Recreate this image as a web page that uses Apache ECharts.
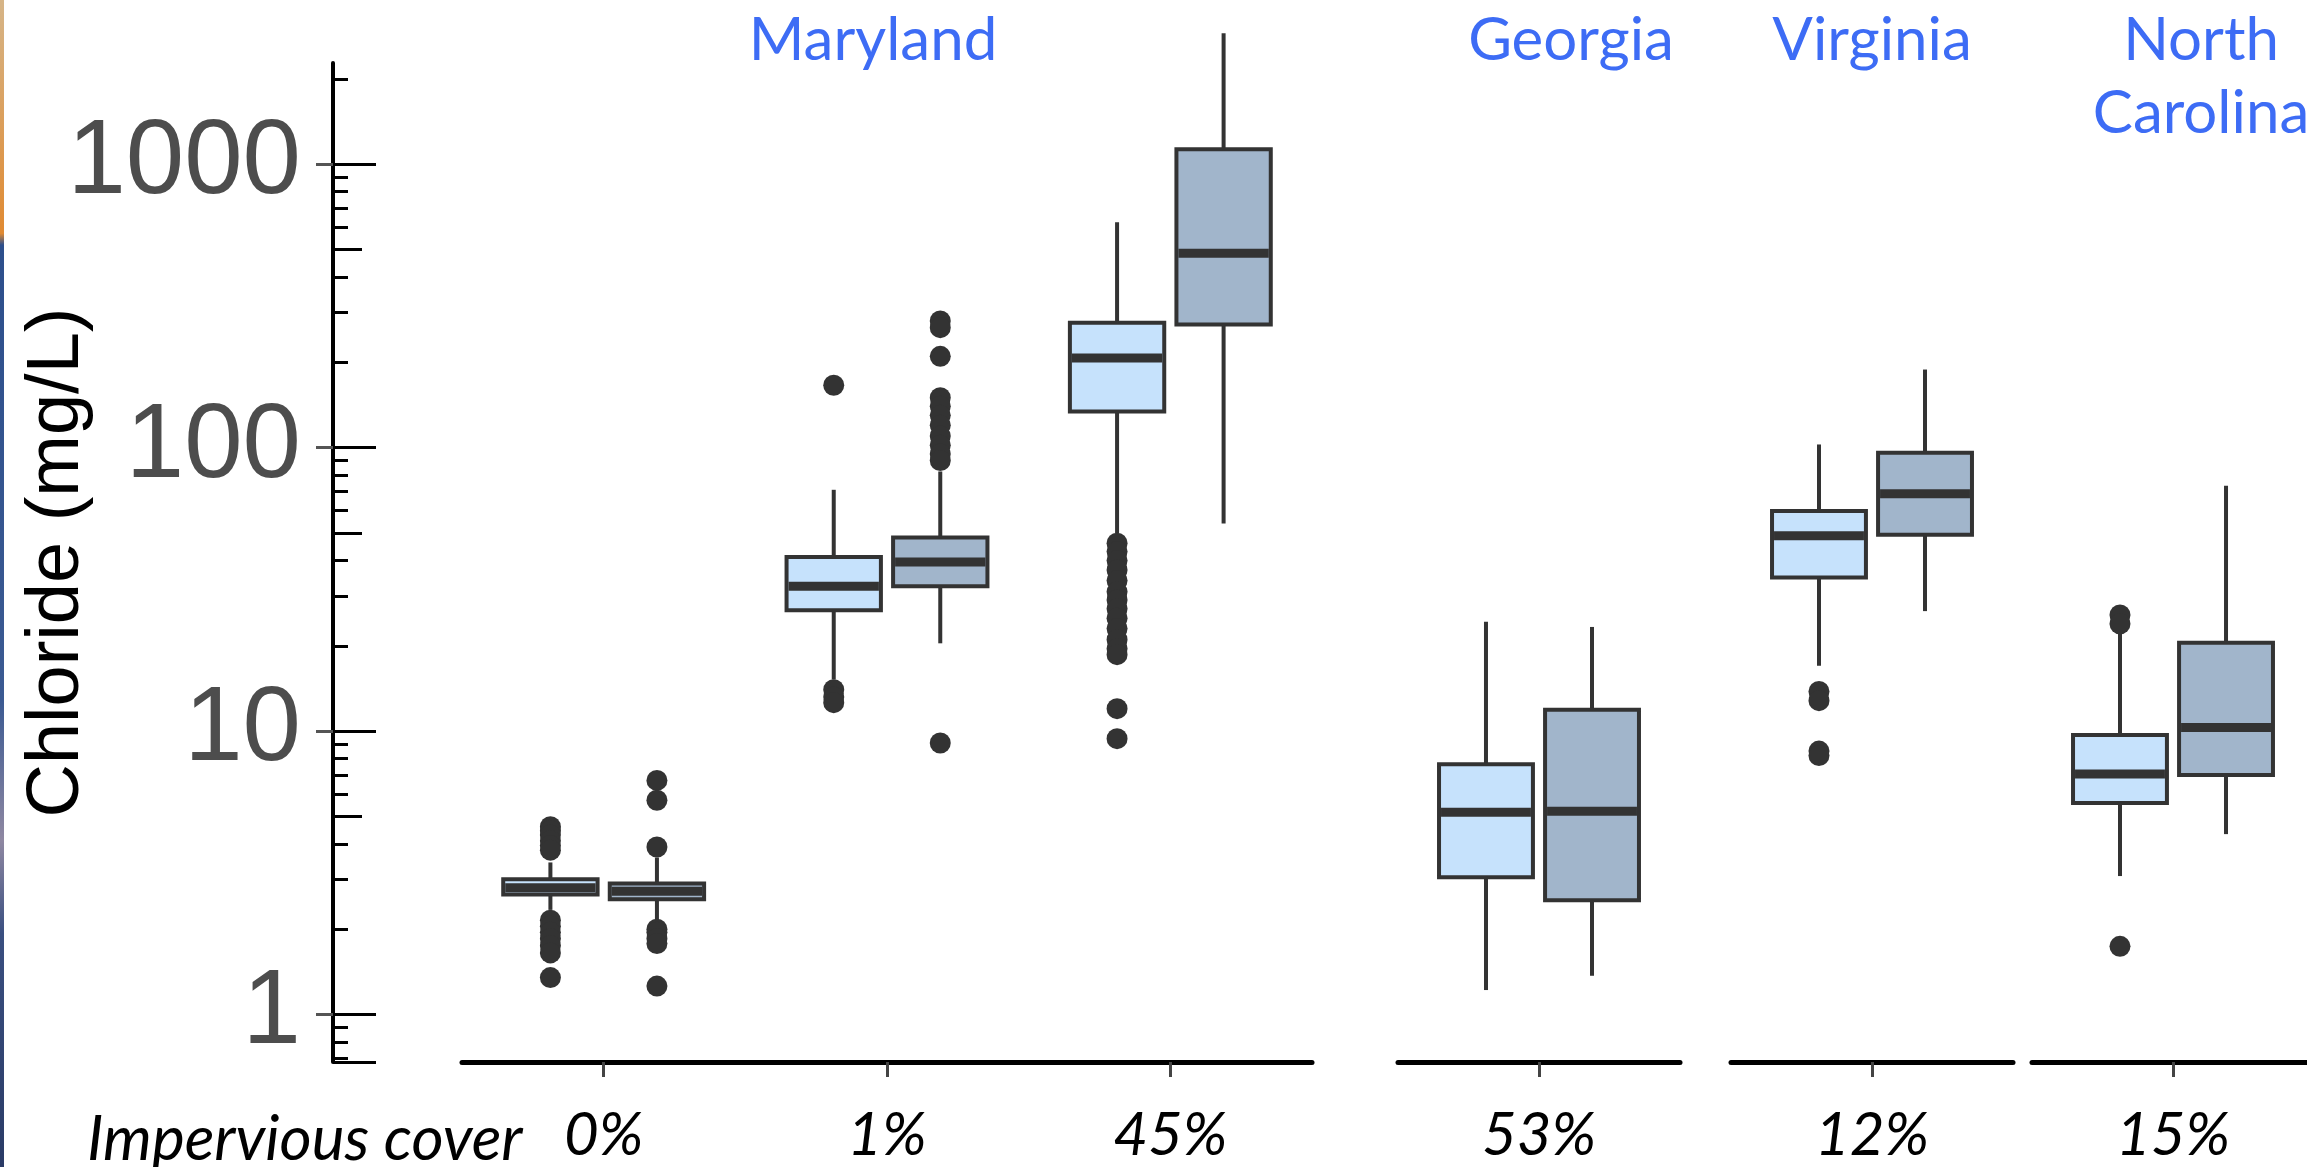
<!DOCTYPE html>
<html>
<head>
<meta charset="utf-8">
<script src="https://cdn.jsdelivr.net/npm/echarts@6/dist/echarts.min.js"></script>
<style>
html, body { margin: 0; padding: 0; background: #ffffff; }
#chart { width: 2307px; height: 1167px; }
</style>
</head>
<body>
<div id="chart"></div>
<script>
// ---------------- data ----------------
const categories = ['0%', '1%', '45%', '53%', '12%', '15%'];
const categoryGroup = [0, 0, 0, 1, 2, 3];
const states = ['Maryland', 'Georgia', 'Virginia', 'North\nCarolina'];
const xLeadLabel = 'Impervious cover';
const yName = 'Chloride (mg/L)';
const yTickValues = [1, 10, 100, 1000];
const yMidTickValues = [5, 50, 500];
const yMin = 0.68;
const yMax = 2275;

// [min, Q1, median, Q3, max] per category
const lightBoxes = [
  [2.34, 2.65, 2.8, 3.0, 3.44],
  [15.2, 26.7, 32.4, 41.1, 71],
  [49.9, 134, 207, 276, 624],
  [1.22, 3.05, 5.17, 7.64, 24.3],
  [17.0, 34.8, 48.9, 59.8, 102.6],
  [3.08, 5.57, 7.05, 9.68, 22.2]
];
const darkBoxes = [
  [2.16, 2.55, 2.72, 2.9, 3.58],
  [20.4, 32.4, 39.5, 48.2, 82.4],
  [54, 272, 485, 1130, 2897],
  [1.37, 2.53, 5.21, 11.9, 23.3],
  [26.5, 49.3, 68.7, 96, 188.6],
  [4.33, 7.0, 10.3, 20.5, 73.4]
];
const lightOutliers = [
  [4.6, 4.45, 4.3, 4.1, 3.95, 3.8, 2.15, 2.05, 1.95, 1.85, 1.75, 1.65, 1.35],
  [166, 14.0, 13.2, 12.6],
  [2550, 2450, 46, 43, 40, 37, 34, 31, 29, 27, 25, 23, 21, 19.5, 18.6, 12.0, 9.4],
  [],
  [13.8, 12.8, 8.5, 8.2],
  [25.7, 23.9, 1.74]
];
const darkOutliers = [
  [6.7, 5.7, 3.9, 2.0, 1.95, 1.85, 1.78, 1.26],
  [280, 265, 210, 150, 140, 130, 120, 110, 102, 95, 90, 9.08],
  [],
  [],
  [],
  []
];

// ---------------- layout / style ----------------
const gridRects = [
  { left: 462, width: 850 },
  { left: 1398, width: 282 },
  { left: 1731, width: 282 },
  { left: 2032, width: 282 }
];
const gridTop = 63, gridHeight = 999;
const yAxisX = 333;
const stateLabelX = [873, 1571, 1872, 2201];
const lightFill = '#c6e2fc';
const darkFill = '#a1b5cb';
const ink = '#333333';
const blue = '#3d6cf5';
const sideShift = 0.188;   // box centre offset as a fraction of the band
const boxFrac = 0.333;     // box width as a fraction of the band

const groupCats = states.map((s, g) => categories.filter((c, i) => categoryGroup[i] === g));

function renderBox(side, fill) {
  return function (params, api) {
    const x = api.value(0);
    const pMin = api.coord([x, api.value(1)]);
    const pQ1 = api.coord([x, api.value(2)]);
    const pMed = api.coord([x, api.value(3)]);
    const pQ3 = api.coord([x, api.value(4)]);
    const pMax = api.coord([x, api.value(5)]);
    const band = api.size([1, 0], [x, 1])[0];
    const cx = pMed[0] + side * band * sideShift;
    const w = band * boxFrac;
    return {
      type: 'group',
      children: [
        { type: 'line', shape: { x1: cx, y1: pMax[1], x2: cx, y2: pQ3[1] }, style: { stroke: ink, lineWidth: 4 } },
        { type: 'line', shape: { x1: cx, y1: pQ1[1], x2: cx, y2: pMin[1] }, style: { stroke: ink, lineWidth: 4 } },
        { type: 'rect', shape: { x: cx - w / 2, y: pQ3[1], width: w, height: pQ1[1] - pQ3[1] }, style: { fill: fill, stroke: ink, lineWidth: 4 } },
        { type: 'line', shape: { x1: cx - w / 2 + 2, y1: pMed[1], x2: cx + w / 2 - 2, y2: pMed[1] }, style: { stroke: ink, lineWidth: 9 } }
      ]
    };
  };
}

const grid = gridRects.map(r => ({
  left: r.left, width: r.width, top: gridTop, height: gridHeight,
  containLabel: false, outerBoundsMode: 'none'
}));

const xAxis = groupCats.map((cats, g) => ({
  type: 'category', gridIndex: g, data: cats,
  axisLine: { show: true, lineStyle: { color: '#000', width: 5 } },
  axisTick: { show: true, alignWithLabel: true, length: 15, lineStyle: { color: '#444', width: 3 } },
  axisLabel: { show: true, margin: 44, color: '#000', fontFamily: 'Lato', fontStyle: 'italic', fontSize: 60 },
  splitLine: { show: false }
}));

const logBase = {
  type: 'log', logBase: 10, min: yMin, max: yMax, gridIndex: 0, position: 'left',
  offset: gridRects[0].left - yAxisX, splitLine: { show: false }
};
const yAxis = [
  Object.assign({}, logBase, {
    name: yName, nameLocation: 'middle', nameRotate: 90, nameGap: 238, nameMoveOverlap: false,
    nameTextStyle: { fontSize: 74, color: '#000', fontFamily: 'Liberation Sans' },
    axisLine: { show: true, lineStyle: { color: '#000', width: 4 } },
    axisTick: { show: true, inside: true, length: 43, customValues: [yMin].concat(yTickValues), lineStyle: { color: '#000', width: 3 } },
    minorTick: { show: true, splitNumber: 9, length: 15, lineStyle: { color: '#000', width: 3 } },
    axisLabel: {
      show: true, customValues: yTickValues, margin: 32, color: '#4d4d4d', fontSize: 105,
      fontFamily: 'Liberation Sans', formatter: v => String(v)
    }
  }),
  Object.assign({}, logBase, {
    axisLine: { show: false },
    axisTick: { show: true, inside: true, length: 29, customValues: yMidTickValues, lineStyle: { color: '#000', width: 3 } },
    minorTick: { show: false },
    axisLabel: { show: false }
  }),
  Object.assign({}, logBase, {
    axisLine: { show: false },
    axisTick: { show: true, inside: false, length: 17, customValues: yTickValues, lineStyle: { color: '#555', width: 3 } },
    minorTick: { show: false },
    axisLabel: { show: false }
  })
];
for (let g = 1; g < gridRects.length; g++) {
  yAxis.push({ type: 'log', logBase: 10, min: yMin, max: yMax, gridIndex: g, show: false });
}

const series = [];
groupCats.forEach((cats, g) => {
  const yIdx = g === 0 ? 0 : 2 + g;
  const boxData = (boxes) => categories.map((c, i) => categoryGroup[i] === g ? [cats.indexOf(c)].concat(boxes[i]) : null).filter(Boolean);
  const outData = (outs) => {
    const arr = [];
    categories.forEach((c, i) => {
      if (categoryGroup[i] !== g) return;
      outs[i].forEach(v => arr.push([cats.indexOf(c), v]));
    });
    return arr;
  };
  const band = gridRects[g].width / cats.length;
  series.push({
    name: 'light', type: 'custom', xAxisIndex: g, yAxisIndex: yIdx,
    renderItem: renderBox(-1, lightFill), data: boxData(lightBoxes),
    encode: { x: 0, y: [1, 2, 3, 4, 5] }, z: 2, clip: false
  });
  series.push({
    name: 'dark', type: 'custom', xAxisIndex: g, yAxisIndex: yIdx,
    renderItem: renderBox(1, darkFill), data: boxData(darkBoxes),
    encode: { x: 0, y: [1, 2, 3, 4, 5] }, z: 2, clip: false
  });
  series.push({
    name: 'light outliers', type: 'scatter', xAxisIndex: g, yAxisIndex: yIdx,
    data: outData(lightOutliers), symbol: 'circle', symbolSize: 21,
    symbolOffset: [-band * sideShift, 0], itemStyle: { color: ink, opacity: 1 }, z: 3
  });
  series.push({
    name: 'dark outliers', type: 'scatter', xAxisIndex: g, yAxisIndex: yIdx,
    data: outData(darkOutliers), symbol: 'circle', symbolSize: 21,
    symbolOffset: [band * sideShift, 0], itemStyle: { color: ink, opacity: 1 }, z: 3
  });
});

const graphic = [
  {
    type: 'rect', left: 0, top: 0, shape: { width: 4, height: 1167 }, silent: true,
    style: { fill: new echarts.graphic.LinearGradient(0, 0, 0, 1, [
      { offset: 0, color: '#d6b588' }, { offset: 0.2, color: '#e08a32' },
      { offset: 0.21, color: '#2d4f8c' }, { offset: 0.6, color: '#3b5a92' },
      { offset: 0.72, color: '#8f88a2' }, { offset: 0.8, color: '#3a4f80' }, { offset: 1, color: '#2a3b66' }
    ]) }
  },
  {
    type: 'text', x: 87, y: 1140, silent: true,
    style: { text: xLeadLabel, fill: '#000', font: 'italic 62px Lato', align: 'left', verticalAlign: 'middle' }
  }
].concat(states.map((s, g) => ({
  type: 'text', x: stateLabelX[g], y: 4, silent: true,
  style: { text: s, fill: blue, font: '60px Lato', align: 'center', verticalAlign: 'top', lineHeight: 73 }
})));

const chart = echarts.init(document.getElementById('chart'), null, { renderer: 'canvas' });
chart.setOption({
  animation: false,
  backgroundColor: '#ffffff',
  grid: grid,
  xAxis: xAxis,
  yAxis: yAxis,
  series: series,
  graphic: graphic
});
</script>
</body>
</html>
